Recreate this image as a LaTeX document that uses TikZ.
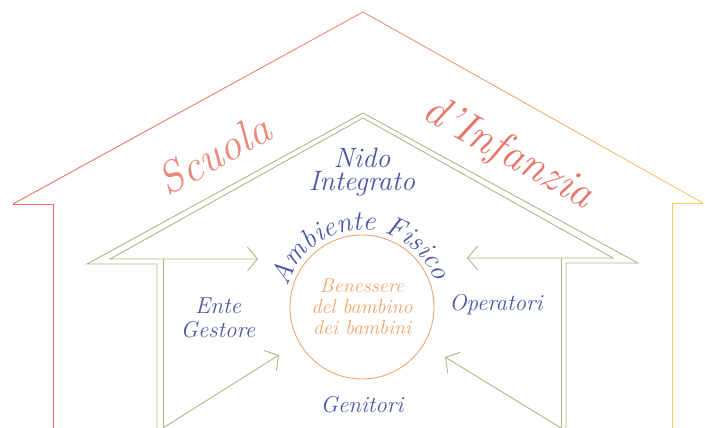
\documentclass[tikz,border=0pt]{standalone}
\usetikzlibrary{arrows.meta,calc,decorations.text}

\definecolor{roofred}{RGB}{232,112,104}
\definecolor{roofsalmon}{RGB}{238,142,120}
\definecolor{roofyellow}{RGB}{246,206,100}
\definecolor{housegreen}{RGB}{168,186,134}
\definecolor{textblue}{RGB}{74,86,166}
\definecolor{textorange}{RGB}{242,164,106}
\definecolor{textsalmon}{RGB}{234,138,122}
\newcommand{\handfont}{\itshape}

\begin{document}
\begin{tikzpicture}[x=1pt,y=1pt]
	\tikzstyle{Outer}	= [line width=0.9pt]
	\tikzstyle{Inner}	= [line width=0.9pt, housegreen]
	\tikzstyle{Barb}	= [Inner, {Straight Barb[length=10pt,width=24pt]}-{Straight Barb[length=10pt,width=24pt]}]
	\tikzstyle{Push}	= [Inner, -{Straight Barb[length=10pt,width=24pt]}]
	\tikzstyle{Roof}	= [font=\handfont\fontsize{44}{46}\selectfont, inner sep=0pt]
	\tikzstyle{Word}	= [font=\handfont\fontsize{23}{24}\selectfont, text=textblue, align=center, inner sep=0pt]

	\useasboundingbox (0,0) rectangle (705,428);

	% scuola d'infanzia
	\coordinate (o1) at (53,0);
	\coordinate (o2) at (53,224);
	\coordinate (o3) at (13,224);
	\coordinate (o4) at (363,416);
	\coordinate (o5) at (703,225);
	\coordinate (o6) at (672,225);
	\coordinate (o7) at (672,0);

	\draw [Outer, roofred] (o1) -- (o2) -- (o3);
	\foreach \i [evaluate=\i as \p using int(\i*20)] in {0,...,4}
		\draw [Outer, roofsalmon!\p!roofred] ($(o3)!\i/5!(o4)$) -- ($(o3)!\i/5+0.2!(o4)$);
	\foreach \i [evaluate=\i as \p using int(\i*10)] in {0,...,9}
		\draw [Outer, roofyellow!\p!roofsalmon] ($(o4)!\i/10!(o5)$) -- ($(o4)!\i/10+0.1!(o5)$);
	\draw [Outer, roofyellow] (o5) -- (o6) -- (o7);
	\draw [line width=0.8pt, roofsalmon!35] (o1) -- (o7);

	% nido integrato
	\coordinate (g1) at (157,0);
	\coordinate (g2) at (157,164);
	\coordinate (g3) at (87,164);
	\coordinate (g4) at (363,315);
	\coordinate (g5) at (638,165);
	\coordinate (g6) at (566,165);
	\coordinate (g7) at (566,0);
	\coordinate (h1) at (110,169);
	\coordinate (h4) at (363,310);
	\coordinate (h5) at (613,170);
	\coordinate (lw) at (163,169);
	\coordinate (lb) at (163,0);
	\coordinate (rw) at (561,170);
	\coordinate (rb) at (561,0);
	\coordinate (lt) at (258,169);
	\coordinate (rt) at (467,170);
	\coordinate (lu) at (279,73);
	\coordinate (ru) at (445,71);

	\draw [Inner] (g1) -- (g2) -- (g3) -- (g4) -- (g5) -- (g6) -- (g7);
	\draw [Barb] (lt) -- (h1) -- (h4) -- (h5) -- (rt);
	\draw [Inner] (lw) -- (lb);
	\draw [Inner] (rw) -- (rb);
	\draw [Push] (lb) -- (lu);
	\draw [Push] (rb) -- (ru);

	% bambino
	\node (core) at (362,121) [circle, draw=textorange, line width=0.9pt, minimum size=144pt, inner sep=0pt,
		align=center, text=textorange, font=\handfont\fontsize{20}{21}\selectfont] {Benessere\\del bambino\\dei bambini};
	\path [decorate, decoration={text along path, text align=center,
		text={|\handfont\fontsize{28}{30}\selectfont\color{textblue}|Ambiente Fisico}}]
		($(core.center)+(170:77)$) arc [start angle=170, end angle=14, radius=77];

	\node (scuola) at (214,274) [Roof, text=textsalmon, rotate=29] {Scuola};
	\node (infanzia) at (508,274) [Roof, text=roofred!80!roofsalmon, rotate=-29] {d'Infanzia};
	\node (nido) at (362,270) [Word, font=\handfont\fontsize{28}{30}\selectfont] {Nido};
	\node (integrato) at (362,244) [Word, font=\handfont\fontsize{28}{30}\selectfont] {Integrato};
	\node (ente) at (218,110) [Word] {Ente\\Gestore};
	\node (operatori) at (496,123) [Word] {Operatori};
	\node (genitori) at (362,23) [Word] {Genitori};
\end{tikzpicture}
\end{document}
